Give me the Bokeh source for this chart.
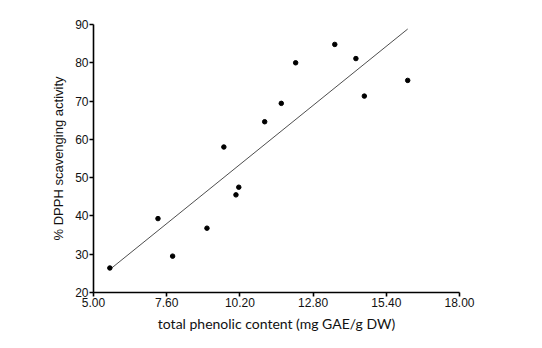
import numpy as np
from bokeh.plotting import figure
from bokeh.models import FixedTicker, NumeralTickFormatter, Range1d
from bokeh.embed import file_html
from bokeh.resources import INLINE

# Data
phenolic = [5.58, 7.29, 7.81, 9.03, 10.06, 10.16, 9.63, 11.08, 11.67, 12.18, 13.57, 14.32, 14.62, 16.16]
dpph = [26.4, 39.3, 29.5, 36.8, 45.5, 47.5, 58.0, 64.6, 69.4, 80.0, 84.8, 81.1, 71.3, 75.4]
x_ticks = [5.0, 7.6, 10.2, 12.8, 15.4, 18.0]
y_ticks = [20, 30, 40, 50, 60, 70, 80, 90]

p = figure(width=542, height=348, output_backend="svg", toolbar_location=None,
           x_range=Range1d(5, 18), y_range=Range1d(20, 90),
           min_border_left=93, min_border_right=83, min_border_top=24, min_border_bottom=56)
p.outline_line_color = None
p.grid.visible = False
p.background_fill_color = "white"
p.border_fill_color = "white"

# regression line
slope, intercept = np.polyfit(phenolic, dpph, 1)
xs = np.array([min(phenolic), max(phenolic)])
p.line(xs, slope * xs + intercept, line_color="#3a3a3a", line_width=0.9)

p.scatter(phenolic, dpph, size=4.5, fill_color="black", line_color="black")

for ax in (p.xaxis[0], p.yaxis[0]):
    ax.axis_line_width = 1.6
    ax.major_tick_line_width = 1.6
    ax.major_tick_out = 4
    ax.major_tick_in = 0
    ax.minor_tick_out = 0
    ax.minor_tick_in = 0
    ax.major_label_text_font = "Liberation Sans"
    ax.major_label_text_font_size = "12px"
    ax.major_label_text_color = "#111111"
    ax.axis_label_text_font_style = "normal"
    ax.axis_label_text_color = "#111111"

p.xaxis[0].ticker = FixedTicker(ticks=x_ticks)
p.xaxis[0].formatter = NumeralTickFormatter(format="0.00")
p.xaxis[0].major_label_standoff = 1
p.xaxis[0].axis_label = "total phenolic content (mg GAE/g DW)"
p.xaxis[0].axis_label_text_font = "Lato"
p.xaxis[0].axis_label_text_font_size = "14px"
p.xaxis[0].axis_label_standoff = 5

p.yaxis[0].ticker = FixedTicker(ticks=y_ticks)
p.yaxis[0].major_label_standoff = 1
p.yaxis[0].axis_label = "% DPPH scavenging activity"
p.yaxis[0].axis_label_text_font = "Liberation Sans"
p.yaxis[0].axis_label_text_font_size = "13px"
p.yaxis[0].axis_label_standoff = 6

open("out.html", "w").write(file_html(p, INLINE))
